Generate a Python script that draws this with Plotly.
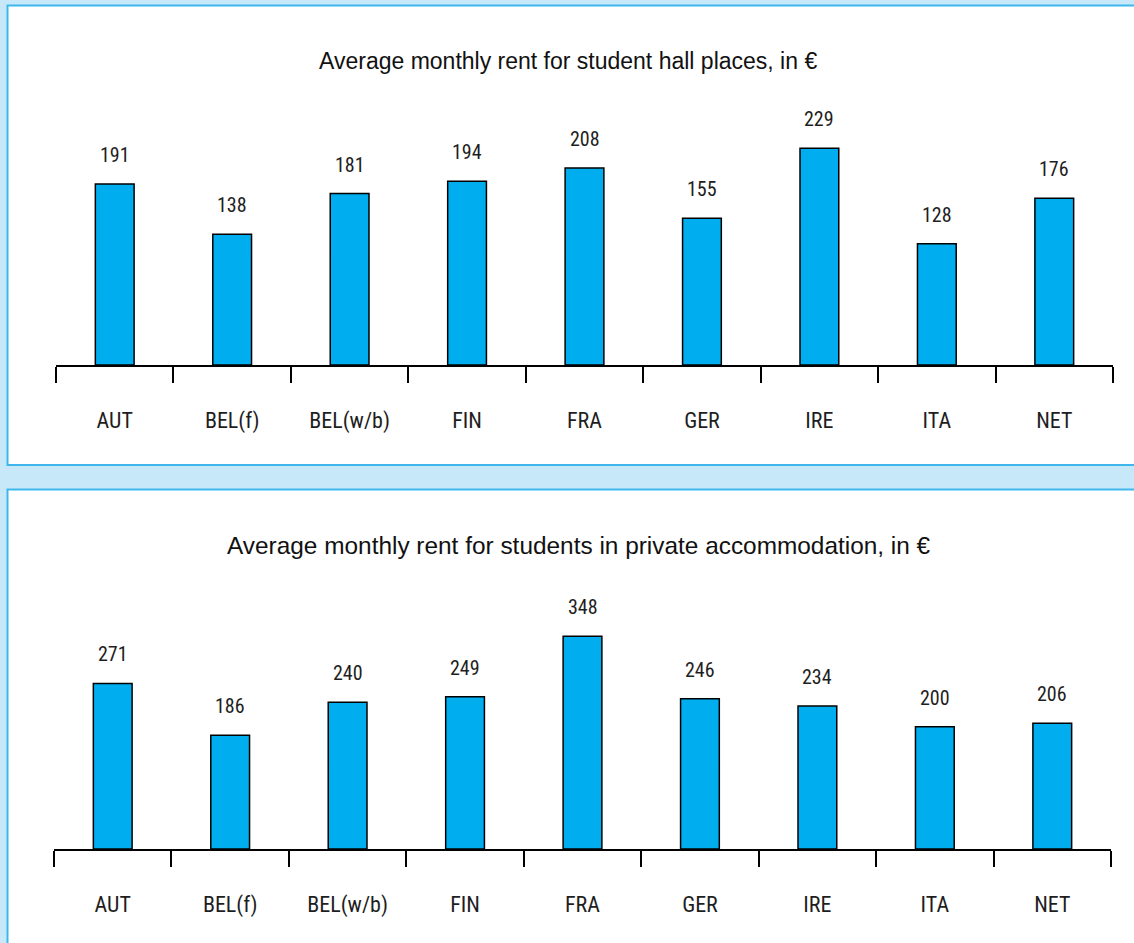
import plotly.graph_objects as go

W, H = 1134, 943

categories = ["AUT", "BEL(f)", "BEL(w/b)", "FIN", "FRA", "GER", "IRE", "ITA", "NET"]
hall_rent = [191, 138, 181, 194, 208, 155, 229, 128, 176]
private_rent = [271, 186, 240, 249, 348, 246, 234, 200, 206]
title_hall = "Average monthly rent for student hall places, in €"
title_private = "Average monthly rent for students in private accommodation, in €"

BG = "#C6E8F8"
BORDER = "#3FB7EC"
BAR = "#00AEEF"
TXT = "#1E1E1E"
NARROW = "Roboto Condensed"
SANS = "Liberation Sans, Arial, sans-serif"


def px(x):
    return x / W


def py(y):
    return 1 - y / H


fig = go.Figure()

p1 = dict(x0=56, x1=1113, base=365, scale=0.947, ymax=250)
p2 = dict(x0=54, x1=1111, base=849, scale=0.611, ymax=400)

for i, (vals, p) in enumerate([(hall_rent, p1), (private_rent, p2)]):
    xa = "x" if i == 0 else "x2"
    ya = "y" if i == 0 else "y2"
    fig.add_trace(go.Bar(
        x=categories, y=vals, xaxis=xa, yaxis=ya,
        width=0.33,
        marker=dict(color=BAR, line=dict(color="#000000", width=1.5)),
        hoverinfo="x+y", showlegend=False,
    ))
    for c, v in zip(categories, vals):
        fig.add_annotation(
            x=c, y=v, xref=xa, yref=ya, text=str(v), showarrow=False,
            yanchor="bottom", yshift=15,
            font=dict(family=NARROW, size=20, color=TXT, weight=400),
        )

def xaxis_cfg(p, anchor):
    return dict(
        domain=[px(p["x0"]), px(p["x1"])], anchor=anchor,
        range=[-0.5, 8.5], type="category",
        showline=True, linecolor="#000000", linewidth=1.5,
        ticks="outside", tickson="boundaries", ticklen=16, tickwidth=1.5,
        tickcolor="#000000", showgrid=False, zeroline=False,
        tickfont=dict(family=NARROW, size=22, color=TXT, weight=400),
        ticklabelstandoff=35,
    )

def yaxis_cfg(p, anchor):
    top = p["base"] - p["scale"] * p["ymax"]
    return dict(
        domain=[py(p["base"]), py(top)], anchor=anchor,
        range=[0, p["ymax"]], visible=False, showgrid=False, zeroline=False,
    )

shapes = [
    dict(type="rect", xref="paper", yref="paper",
         x0=px(7.5), x1=px(1140), y0=py(5.5), y1=py(465),
         fillcolor="#FFFFFF", line=dict(color=BORDER, width=2), layer="below"),
    dict(type="rect", xref="paper", yref="paper",
         x0=px(7.5), x1=px(1140), y0=py(489.5), y1=py(950),
         fillcolor="#FFFFFF", line=dict(color=BORDER, width=2), layer="below"),
]

fig.add_annotation(x=px(568), y=py(61), xref="paper", yref="paper", text=title_hall,
                   showarrow=False, xanchor="center", yanchor="middle",
                   font=dict(family=SANS, size=23, color="#111111"))
fig.add_annotation(x=px(579), y=py(545), xref="paper", yref="paper", text=title_private,
                   showarrow=False, xanchor="center", yanchor="middle",
                   font=dict(family=SANS, size=24.4, color="#111111"))

fig.update_layout(
    width=W, height=H,
    margin=dict(l=0, r=0, t=0, b=0),
    paper_bgcolor=BG, plot_bgcolor="rgba(0,0,0,0)",
    xaxis=xaxis_cfg(p1, "y"), yaxis=yaxis_cfg(p1, "x"),
    xaxis2=xaxis_cfg(p2, "y2"), yaxis2=yaxis_cfg(p2, "x2"),
    shapes=shapes,
    bargap=0.67,
)

fig.write_html("out.html", config={"displayModeBar": False},
               post_script="document.body.style.margin='0';document.body.style.background='" + BG + "';")
